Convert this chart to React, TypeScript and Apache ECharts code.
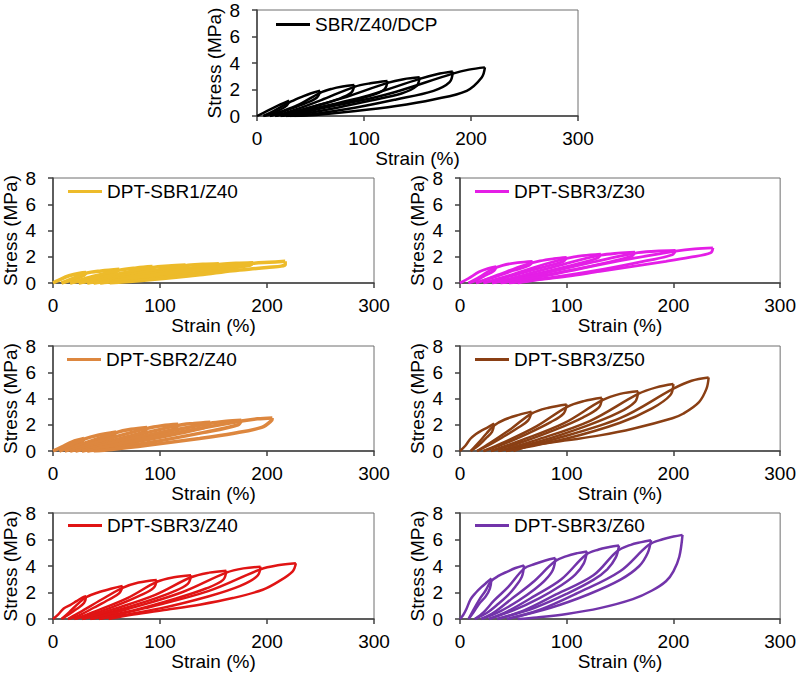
import React, { useEffect, useRef } from "react";
import * as echarts from "echarts";

type Pt = [number, number];

// Each panel: alternating loading / unloading segments of the cyclic tests (strain %, stress MPa)
const DCP_SEGMENTS: Pt[][] = [
  [[0, 0], [10, 0.4], [20, 0.8], [30, 1.15]],
  [[30, 1.15], [28, 0.8], [20, 0.4], [12, 0.1], [6, 0]],
  [[6, 0], [15, 0.35], [25, 0.8], [32, 1.1], [42, 1.45], [50, 1.7], [59, 1.9]],
  [[59, 1.9], [56, 1.4], [45, 0.95], [30, 0.5], [18, 0.15], [12, 0]],
  [[12, 0], [25, 0.4], [40, 0.9], [59, 1.75], [70, 2.05], [80, 2.22], [91, 2.34]],
  [[91, 2.34], [88, 1.75], [75, 1.25], [55, 0.75], [35, 0.3], [17, 0]],
  [[17, 0], [35, 0.45], [60, 1.2], [91, 2.2], [106, 2.47], [122, 2.64]],
  [[122, 2.64], [119, 2.0], [105, 1.5], [80, 1.0], [50, 0.45], [30, 0.1], [22, 0]],
  [[22, 0], [45, 0.55], [80, 1.35], [122, 2.5], [137, 2.78], [152, 2.92]],
  [[152, 2.92], [149, 2.25], [135, 1.7], [105, 1.15], [70, 0.55], [40, 0.12], [27, 0]],
  [[27, 0], [55, 0.6], [100, 1.45], [152, 2.8], [168, 3.15], [183, 3.35]],
  [[183, 3.35], [180, 2.55], [165, 1.9], [130, 1.25], [90, 0.6], [50, 0.12], [31, 0]],
  [[31, 0], [65, 0.65], [120, 1.6], [183, 3.2], [198, 3.5], [213, 3.67]],
  [[213, 3.67], [210, 2.9], [196, 1.9], [165, 1.25], [130, 0.75], [90, 0.35], [55, 0.08], [35, 0]],
];

const SBR1_Z40_SEGMENTS: Pt[][] = [
  [[0, 0], [5, 0.2], [15, 0.55], [25, 0.75], [31, 0.8]],
  [[31, 0.8], [29, 0.6], [20, 0.3], [8, 0]],
  [[8, 0], [20, 0.4], [31, 0.75], [45, 0.92], [62, 1.05]],
  [[62, 1.05], [59, 0.85], [45, 0.55], [30, 0.22], [16, 0]],
  [[16, 0], [35, 0.45], [62, 0.98], [78, 1.15], [93, 1.25]],
  [[93, 1.25], [90, 1.05], [70, 0.7], [45, 0.3], [24, 0]],
  [[24, 0], [50, 0.5], [93, 1.18], [108, 1.3], [124, 1.38]],
  [[124, 1.38], [121, 1.18], [95, 0.8], [60, 0.35], [32, 0]],
  [[32, 0], [65, 0.55], [124, 1.32], [140, 1.42], [155, 1.47]],
  [[155, 1.47], [152, 1.28], [120, 0.88], [80, 0.42], [38, 0]],
  [[38, 0], [80, 0.6], [155, 1.42], [171, 1.5], [187, 1.55]],
  [[187, 1.55], [184, 1.35], [150, 0.95], [100, 0.48], [44, 0]],
  [[44, 0], [95, 0.62], [187, 1.5], [202, 1.58], [217, 1.65]],
  [[217, 1.65], [217, 1.4], [200, 1.18], [168, 0.94], [137, 0.63], [90, 0.25], [53, 0]],
];

const SBR3_Z30_SEGMENTS: Pt[][] = [
  [[0, 0], [8, 0.35], [18, 0.85], [26, 1.1], [34, 1.25]],
  [[34, 1.25], [32, 0.95], [22, 0.5], [14, 0.15], [8, 0]],
  [[8, 0], [18, 0.45], [30, 1.05], [40, 1.35], [54, 1.55], [68, 1.65]],
  [[68, 1.65], [65, 1.35], [50, 0.95], [32, 0.45], [15, 0]],
  [[15, 0], [35, 0.6], [60, 1.35], [75, 1.68], [88, 1.85], [100, 1.95]],
  [[100, 1.95], [97, 1.65], [80, 1.25], [55, 0.7], [35, 0.25], [22, 0]],
  [[22, 0], [45, 0.55], [80, 1.45], [100, 1.88], [115, 2.08], [132, 2.2]],
  [[132, 2.2], [129, 1.9], [110, 1.45], [80, 0.85], [50, 0.3], [30, 0]],
  [[30, 0], [60, 0.6], [100, 1.5], [132, 2.12], [148, 2.27], [164, 2.35]],
  [[164, 2.35], [161, 2.05], [140, 1.6], [105, 1.0], [65, 0.35], [38, 0]],
  [[38, 0], [75, 0.65], [125, 1.6], [164, 2.28], [183, 2.42], [202, 2.48]],
  [[202, 2.48], [199, 2.15], [175, 1.7], [135, 1.05], [85, 0.4], [46, 0]],
  [[46, 0], [90, 0.7], [150, 1.7], [202, 2.42], [220, 2.6], [237, 2.68]],
  [[237, 2.68], [235, 2.3], [215, 1.95], [193, 1.65], [162, 1.27], [131, 0.89], [100, 0.5], [68, 0.18], [54, 0]],
];

const SBR2_Z40_SEGMENTS: Pt[][] = [
  [[0, 0], [8, 0.3], [18, 0.7], [29, 0.95]],
  [[29, 0.95], [27, 0.7], [18, 0.35], [6, 0]],
  [[6, 0], [15, 0.4], [29, 0.9], [42, 1.2], [59, 1.45]],
  [[59, 1.45], [56, 1.15], [42, 0.75], [25, 0.3], [11, 0]],
  [[11, 0], [30, 0.6], [59, 1.4], [73, 1.65], [88, 1.8]],
  [[88, 1.8], [85, 1.45], [65, 1.0], [40, 0.45], [16, 0]],
  [[16, 0], [40, 0.65], [88, 1.72], [102, 1.92], [117, 2.03]],
  [[117, 2.03], [114, 1.7], [90, 1.2], [55, 0.55], [21, 0]],
  [[21, 0], [55, 0.75], [117, 1.95], [132, 2.1], [147, 2.2]],
  [[147, 2.2], [144, 1.85], [115, 1.3], [70, 0.6], [27, 0]],
  [[27, 0], [65, 0.8], [147, 2.12], [162, 2.27], [176, 2.35]],
  [[176, 2.35], [173, 2.0], [140, 1.4], [90, 0.65], [32, 0]],
  [[32, 0], [80, 0.85], [176, 2.28], [191, 2.45], [205, 2.52]],
  [[205, 2.52], [204, 2.3], [195, 1.8], [168, 1.34], [137, 0.96], [90, 0.46], [55, 0.12], [38, 0]],
];

const SBR3_Z50_SEGMENTS: Pt[][] = [
  [[0, 0], [5, 0.4], [10, 0.95], [15, 1.3], [20, 1.55], [26, 1.8], [32, 2.08]],
  [[32, 2.08], [30, 1.45], [24, 0.95], [17, 0.4], [10, 0]],
  [[10, 0], [17, 0.6], [25, 1.35], [32, 1.95], [42, 2.4], [55, 2.75], [67, 3.0]],
  [[67, 3.0], [64, 2.35], [54, 1.75], [40, 1.05], [26, 0.4], [16, 0]],
  [[16, 0], [28, 0.6], [48, 1.7], [67, 2.85], [83, 3.3], [100, 3.55]],
  [[100, 3.55], [97, 2.85], [85, 2.2], [64, 1.35], [40, 0.5], [22, 0]],
  [[22, 0], [42, 0.7], [72, 1.9], [100, 3.35], [116, 3.8], [133, 4.05]],
  [[133, 4.05], [130, 3.3], [115, 2.55], [90, 1.65], [57, 0.65], [29, 0]],
  [[29, 0], [57, 0.8], [97, 2.1], [133, 3.85], [150, 4.35], [167, 4.55]],
  [[167, 4.55], [164, 3.75], [148, 2.9], [118, 1.9], [75, 0.75], [36, 0]],
  [[36, 0], [72, 0.85], [122, 2.3], [167, 4.35], [184, 4.85], [200, 5.1]],
  [[200, 5.1], [197, 4.25], [180, 3.25], [150, 2.15], [100, 0.95], [43, 0]],
  [[43, 0], [88, 0.9], [150, 2.5], [200, 4.75], [217, 5.35], [233, 5.6]],
  [[233, 5.6], [231, 4.75], [224, 3.73], [209, 2.84], [199, 2.5], [162, 1.7], [131, 1.19], [100, 0.81], [68, 0.43], [50, 0]],
];

const SBR3_Z40_SEGMENTS: Pt[][] = [
  [[0, 0], [5, 0.35], [10, 0.8], [16, 1.05], [22, 1.35], [27, 1.6], [31, 1.72]],
  [[31, 1.72], [29, 1.2], [22, 0.75], [14, 0.3], [8, 0]],
  [[8, 0], [15, 0.5], [24, 1.2], [31, 1.65], [42, 2.0], [55, 2.3], [65, 2.5]],
  [[65, 2.5], [62, 1.95], [52, 1.45], [38, 0.85], [25, 0.3], [14, 0]],
  [[14, 0], [25, 0.5], [45, 1.45], [65, 2.35], [80, 2.75], [97, 2.95]],
  [[97, 2.95], [94, 2.35], [82, 1.8], [62, 1.1], [40, 0.45], [20, 0]],
  [[20, 0], [40, 0.6], [70, 1.6], [97, 2.8], [113, 3.15], [129, 3.3]],
  [[129, 3.3], [126, 2.65], [112, 2.05], [88, 1.35], [55, 0.55], [27, 0]],
  [[27, 0], [55, 0.7], [95, 1.8], [129, 3.15], [146, 3.5], [162, 3.65]],
  [[162, 3.65], [159, 2.95], [143, 2.3], [115, 1.55], [75, 0.65], [35, 0]],
  [[35, 0], [70, 0.75], [120, 2.0], [162, 3.5], [178, 3.82], [194, 3.95]],
  [[194, 3.95], [191, 3.25], [175, 2.5], [145, 1.7], [100, 0.8], [43, 0]],
  [[43, 0], [85, 0.8], [145, 2.1], [194, 3.75], [210, 4.05], [227, 4.2]],
  [[227, 4.2], [224, 3.6], [211, 2.84], [196, 2.21], [168, 1.58], [137, 1.08], [106, 0.7], [75, 0.33], [52, 0]],
];

const SBR3_Z60_SEGMENTS: Pt[][] = [
  [[0, 0], [3, 0.3], [6, 0.75], [10, 1.5], [15, 2.0], [20, 2.4], [25, 2.75], [29.5, 3.05]],
  [[29.5, 3.05], [28, 2.3], [24, 1.7], [18, 1.15], [13, 0.55], [8, 0]],
  [[8, 0], [12, 0.6], [18, 1.45], [24, 2.15], [29, 2.85], [36, 3.25], [45, 3.6], [52, 3.85], [60, 4.05]],
  [[60, 4.05], [58, 3.2], [52, 2.45], [45, 1.8], [36, 1.15], [25, 0.45], [14, 0]],
  [[14, 0], [22, 0.5], [32, 1.4], [45, 2.4], [60, 3.8], [70, 4.15], [80, 4.42], [89.5, 4.6]],
  [[89.5, 4.6], [87, 3.7], [80, 2.95], [70, 2.25], [55, 1.4], [38, 0.6], [20, 0]],
  [[20, 0], [32, 0.5], [48, 1.5], [68, 2.75], [89, 4.35], [100, 4.75], [110, 4.97], [119, 5.1]],
  [[119, 5.1], [116, 4.2], [108, 3.35], [95, 2.55], [75, 1.6], [50, 0.65], [27, 0]],
  [[27, 0], [45, 0.6], [70, 1.75], [95, 3.0], [118, 4.85], [130, 5.25], [140, 5.43], [149, 5.55]],
  [[149, 5.55], [146, 4.65], [138, 3.75], [125, 2.95], [100, 1.9], [70, 0.85], [35, 0]],
  [[35, 0], [60, 0.65], [90, 1.85], [125, 3.3], [147, 5.1], [160, 5.6], [170, 5.8], [179, 5.95]],
  [[179, 5.95], [176, 5.0], [168, 4.0], [150, 2.95], [120, 1.85], [85, 0.85], [44, 0]],
  [[44, 0], [75, 0.7], [110, 1.95], [150, 3.6], [177, 5.6], [190, 6.02], [200, 6.22], [208.5, 6.35]],
  [[208.5, 6.35], [205.5, 4.7], [200, 3.6], [193, 2.85], [180, 2.15], [162, 1.5], [131, 0.82], [100, 0.38], [72, 0.12], [54, 0]],
];

const PANEL_NAMES = [
  "SBR/Z40/DCP",
  "DPT-SBR1/Z40",
  "DPT-SBR3/Z30",
  "DPT-SBR2/Z40",
  "DPT-SBR3/Z50",
  "DPT-SBR3/Z40",
  "DPT-SBR3/Z60",
];
const PANEL_DATA = [
  DCP_SEGMENTS,
  SBR1_Z40_SEGMENTS,
  SBR3_Z30_SEGMENTS,
  SBR2_Z40_SEGMENTS,
  SBR3_Z50_SEGMENTS,
  SBR3_Z40_SEGMENTS,
  SBR3_Z60_SEGMENTS,
];
const PANEL_COLORS = ["#000000", "#EDBB2A", "#E41EE6", "#DD873F", "#8A3F14", "#E01414", "#7234AA"];
const PANEL_LINE_WIDTHS = [2.5, 3.5, 2.8, 3.5, 2.5, 2.5, 2.5];

const X_MIN = 0, X_MAX = 300, X_STEP = 100;
const Y_MIN = 0, Y_MAX = 8, Y_STEP = 2;
const X_TITLE = "Strain (%)";
const Y_TITLE = "Stress (MPa)";

const GRIDS = [
  { left: 257, top: 10, width: 321, height: 106, legendDx: 19, legendDy: 16 },
  { left: 53, top: 178, width: 321, height: 105, legendDx: 15, legendDy: 15 },
  { left: 460, top: 178, width: 321, height: 105, legendDx: 15, legendDy: 15 },
  { left: 53, top: 346, width: 321, height: 105, legendDx: 14, legendDy: 15 },
  { left: 460, top: 346, width: 321, height: 105, legendDx: 15, legendDy: 15 },
  { left: 53, top: 513, width: 321, height: 106, legendDx: 15, legendDy: 14 },
  { left: 460, top: 513, width: 321, height: 106, legendDx: 15, legendDy: 14 },
];

const FONT = "'Liberation Sans', Arial, sans-serif";
const FS = 19;

export default function App() {
  const ref = useRef<HTMLDivElement>(null);
  useEffect(() => {
    if (!ref.current) return;
    const chart = echarts.init(ref.current, undefined, { renderer: "svg" });
    const axisColor = "#404040";
    const grid = GRIDS.map((g) => ({
      left: g.left,
      top: g.top,
      width: g.width,
      height: g.height,
      show: true,
      borderColor: "#6f6f6f",
      borderWidth: 1,
      backgroundColor: "transparent",
      containLabel: false,
    }));
    const xAxis = GRIDS.map((_, i) => ({
      gridIndex: i,
      type: "value",
      min: X_MIN,
      max: X_MAX,
      interval: X_STEP,
      name: X_TITLE,
      nameLocation: "middle",
      nameGap: 33,
      nameMoveOverlap: false,
      nameTextStyle: { fontSize: FS, color: "#000", fontFamily: FONT },
      axisLine: { show: true, onZero: false, lineStyle: { color: axisColor, width: 1.5 } },
      axisTick: { show: true, inside: false, length: 5, lineStyle: { color: axisColor, width: 1.5 } },
      axisLabel: { fontSize: FS, color: "#000", fontFamily: FONT, margin: 13 },
      splitLine: { show: false },
    }));
    const yAxis = GRIDS.map((_, i) => ({
      gridIndex: i,
      type: "value",
      min: Y_MIN,
      max: Y_MAX,
      interval: Y_STEP,
      name: Y_TITLE,
      nameLocation: "middle",
      nameGap: 33,
      nameMoveOverlap: false,
      nameTextStyle: { fontSize: FS, color: "#000", fontFamily: FONT },
      axisLine: { show: true, onZero: false, lineStyle: { color: axisColor, width: 1.5 } },
      axisTick: { show: true, inside: false, length: 5, lineStyle: { color: axisColor, width: 1.5 } },
      axisLabel: { fontSize: FS, color: "#000", fontFamily: FONT, margin: 17 },
      splitLine: { show: false },
    }));
    const series: any[] = [];
    PANEL_DATA.forEach((segments, i) => {
      segments.forEach((seg) => {
        series.push({
          type: "line",
          name: PANEL_NAMES[i],
          xAxisIndex: i,
          yAxisIndex: i,
          data: seg,
          smooth: 0.35,
          symbol: "none",
          showSymbol: false,
          silent: true,
          lineStyle: { color: PANEL_COLORS[i], width: PANEL_LINE_WIDTHS[i] },
          itemStyle: { color: PANEL_COLORS[i] },
        });
      });
    });
    const legend = GRIDS.map((g, i) => ({
      data: [PANEL_NAMES[i]],
      left: g.left + g.legendDx,
      top: g.top + g.legendDy - 11,
      padding: 0,
      icon: "rect",
      itemWidth: 34,
      itemHeight: 3,
      selectedMode: false,
      textStyle: { fontSize: FS, color: "#000", fontFamily: FONT },
    }));
    chart.setOption({
      animation: false,
      textStyle: { fontFamily: FONT },
      grid,
      xAxis,
      yAxis,
      legend,
      series,
    });
    return () => chart.dispose();
  }, []);
  return (
    <div
      ref={ref}
      style={{ position: "fixed", left: 0, top: 0, width: 799, height: 676, background: "#fff" }}
    />
  );
}
